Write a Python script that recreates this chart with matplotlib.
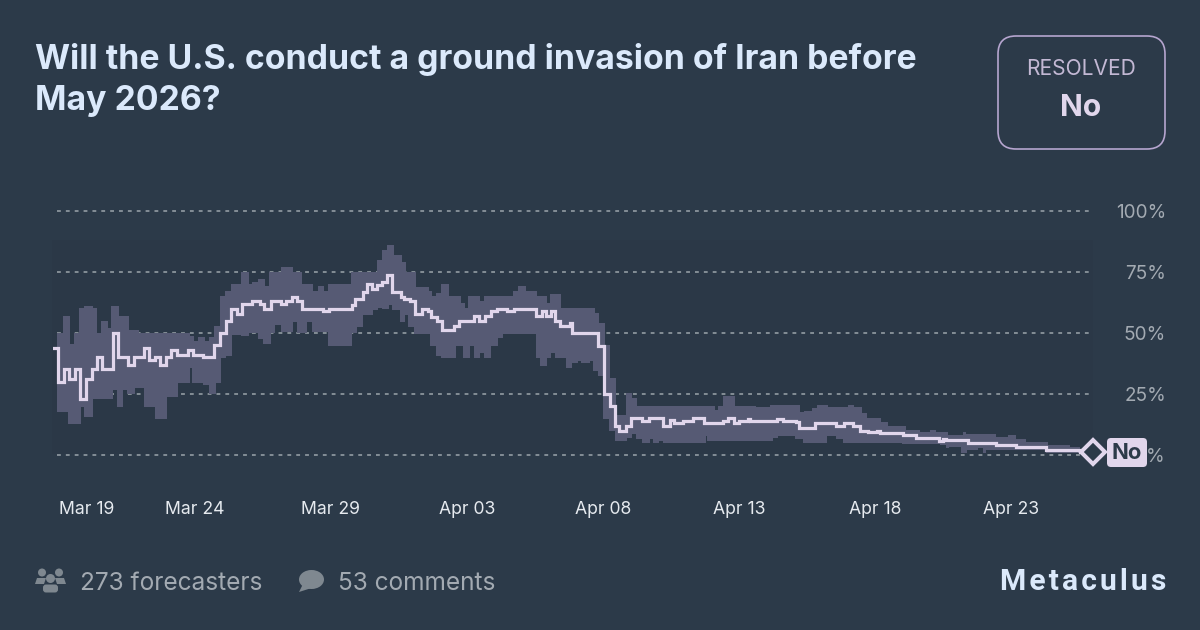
import matplotlib
matplotlib.use('Agg')
import matplotlib.pyplot as plt
from matplotlib.patches import FancyBboxPatch, Circle, Ellipse, Polygon, Rectangle

BG = '#2c3a49'
TITLE_COL = '#dbe9fb'
LAV = '#e1d6ec'
BAND = '#565a74'
GREY = '#a3aab2'
ICON = '#7f8890'

plt.rcParams['font.family'] = ['Inter', 'DejaVu Sans']

# hours since Mar 19, then percent
line_h = [-5.6, -0.6, 4.4, 8.8, 14.1, 18.5, 23.5, 28.8, 33.2, 38.2, 47.4, 52.4, 61.2, 66.2, 75.3, 79.7, 84.7, 89.1,
          94.4, 98.8, 103.8, 114.1, 117.9, 127.4, 136.8, 142, 147, 151.8, 156.8, 161.8, 170.6, 177.4, 180.9, 186.8,
          195.6, 200.3, 205.3, 210.3, 214.1, 232.6, 237.9, 258.2, 261.2, 268.5, 271.5, 275.9, 280.3, 284.7, 289.7,
          294.1, 301.7, 304.7, 309.7, 314.1, 320, 325.9, 328.2, 333.2, 337.6, 348.5, 353.2, 366.2, 370.6, 375.9,
          380.9, 386.2, 395, 401.4, 421.4, 426.4, 429.4, 433.8, 438.2, 442.6, 450.9, 452.9, 475.9, 480.9, 486.2,
          490.6, 494.5, 500.3, 504.5, 514.2, 520.9, 533.3, 539.7, 542.7, 550.3, 559.8, 569.2, 586.2, 590.6, 595.6,
          600.3, 608.3, 610.3, 633.3, 638.6, 650.9, 653.3, 667.1, 685.6, 693, 700.9, 706.8, 714.2, 722.1, 724.5,
          745, 756, 776.8, 780.3, 783.2, 802.3, 827.3, 845, 871.5, 900.9, 912.6]
line_p = [44, 30, 35, 31, 35, 22.7, 31, 35, 40, 35, 50, 40, 37, 40, 44, 39, 40, 37,
          40, 43, 41, 43, 41, 40, 45, 50, 55, 60, 58, 62, 63, 62, 60, 63,
          62, 63, 65, 63, 60, 59, 60, 61.5, 63.9, 67, 70, 68, 69.8, 71, 74,
          67, 65, 63.9, 63, 57.8, 60, 59, 56.7, 55, 51.2, 52.9, 55, 57, 55, 57,
          59, 59.9, 59, 59.9, 57, 59, 57, 59, 55, 52.9, 54, 49.9, 44.8, 24.9, 20,
          11.8, 9.8, 11.8, 14.9, 13.8, 14.9, 11.8, 14.2, 12.8, 13.8, 14.9, 12.8, 13.8, 14.9, 12.8,
          13.8, 14.6, 13.8, 14.6, 13.8, 13.3, 10.8, 13.1, 11.8, 12.8, 11.8, 9.8, 9.4, 9.8, 9,
          8, 6.9, 5.6, 6.5, 5.9, 4.8, 3.9, 2.9, 1.8, 0.9, 0.9]

upper_h = [-1.5, 3.2, 9.7, 13.2, 17.6, 22.4, 29.7, 33.2, 37.1, 42.9, 45.9, 52.9, 61.8, 70.9, 115.6, 119.1, 122.9, 128.8,
           132.4, 136.8, 142.1, 146.5, 151.5, 160.6, 167.9, 170.6, 175.3, 181.8, 185.6, 195.6, 206.8, 214.7, 224.4,
           228.8, 233.8, 237.6, 257.3, 280.3, 284.7, 289.1, 295.6, 302.3, 305.9, 315, 326.7, 329.4, 332.6, 337, 344.4,
           354.4, 358, 361.2, 372, 375.3, 400.9, 405.3, 412.6, 422, 430.9, 433.2, 443.5, 472.9, 476.7, 481.7, 486.2,
           491.5, 500.3, 505.3, 510.3, 578.9, 581.8, 585.6, 596.5, 615.6, 627.4, 653.9, 657.4, 664.2, 668.6, 678.9,
           696.5, 701.5, 708.3, 712.7, 725.9, 731.8, 747.9, 759.7, 768.5, 773.8, 784.7, 797.9, 800.3, 827.3, 837.6,
           845, 853.8, 872.9, 892, 900.9, 912.6]
upper_p = [50, 57.1, 45.3, 49.9, 60.2, 61.1, 60.2, 49.9, 55, 52.2, 61.1, 57.1, 51.2, 49.9, 48.8, 46.9, 48.2, 46.9,
           48.2, 53, 65.2, 67.3, 70.2, 75, 70.2, 71.1, 72.1, 69.4, 75, 77, 75, 70.2, 67.3,
           69.4, 67.3, 70.2, 75, 80, 84.2, 86.2, 82.1, 79.1, 75, 69.1, 67.3, 65.4, 66.3, 70.2, 65.2,
           62.2, 60.2, 65.2, 63.3, 65.2, 67.3, 69.4, 67.3, 65.2, 62.2, 66, 60.2, 58.1, 54, 45.1, 31.4,
           16.3, 25.2, 23.1, 20.1, 18.3, 20.1, 24.1, 20.1, 19.4, 20.4, 17.4, 18.1, 19.3, 20.4, 19.4,
           20.4, 19.4, 17, 14.9, 13.5, 11.8, 10, 9.4, 10, 9.1, 8, 9.1, 8.3, 7.3, 8,
           6.3, 5.2, 3.9, 2.9, 1.8, 0.9]

lower_h = [-1.5, 8.2, 19.1, 22.4, 29.7, 47.4, 51.5, 56.8, 60.3, 67.1, 75, 84.7, 95.6, 105.3, 115.6, 117.1, 127.4, 132.6,
           138.2, 142.9, 147.4, 152.9, 160.6, 167.9, 175.9, 180.3, 186.8, 190.6, 195.6, 206.8, 209.7, 218.5, 222.9,
           237.6, 258.2, 262.6, 268.5, 276.7, 281.7, 284.7, 291.2, 294.1, 300.9, 305.3, 308.2, 313.5, 327.3, 332.6,
           337, 350.3, 356.7, 362.6, 366.2, 372, 375.3, 381.7, 387.6, 392, 420.9, 424.4, 430.3, 433.8, 437.6, 447.3,
           453.2, 458.2, 461.1, 468.5, 471.4, 475.9, 480.3, 485.6, 490.6, 500.9, 505.9, 509.2, 514.2, 521.5, 523.9,
           529.8, 532.7, 570.9, 572.1, 630.3, 634.7, 649.5, 656.8, 677.4, 685.6, 692.1, 724.4, 744.4, 777.3, 782.6,
           785.6, 796.5, 801.4, 811.2, 815.6, 818.5, 871.5, 912.6]
lower_p = [17.6, 12.5, 19.7, 15.6, 22.7, 26.5, 19.7, 26.5, 24.9, 27.5, 19.7, 14.6, 23.5, 29.6, 35.5, 29.6, 28.6, 24.9,
           29.6, 39.6, 40.5, 49.2, 48.8, 49.9, 47.4, 45.5, 49.9, 53.3, 50.6, 54.4, 49.9, 54.4, 50.6,
           44.8, 49.9, 52.3, 57.4, 59.5, 60.4, 59.7, 61.5, 59.5, 54.4, 57.4, 52.3, 49.6, 44.8, 40.7,
           39.6, 44.8, 39.6, 44.8, 39.6, 41.6, 39.6, 44.8, 47.8, 49.6, 39.6, 36.6, 39.6, 41.6, 39.6, 35.7,
           37.5, 38.6, 37.5, 38.6, 34.5, 32.4, 14.6, 9.7, 5.7, 6.7, 8.5, 6.4, 4.6, 6.4, 4.6,
           5.6, 4.9, 7.6, 5.6, 6.7, 7.6, 6.4, 4.9, 7.6, 6.4, 4.6, 4.8, 4.5, 3.9, 2.5,
           2.9, 0.8, 1.8, 2.5, 0.8, 1.8, 0.8, 0.8]

tick_days = [0, 5, 10, 15, 20, 25, 30, 35]
tick_names = ['Mar 19', 'Mar 24', 'Mar 29', 'Apr 03', 'Apr 08', 'Apr 13', 'Apr 18', 'Apr 23']
y_ticks = [0, 25, 50, 75, 100]
y_names = ['0%', '25%', '50%', '75%', '100%']
end_hour = 912.6
end_pct = 0.9


def px_rect(x0, y0, x1, y1):
    return [x0 / 1200, 1 - y1 / 630, (x1 - x0) / 1200, (y1 - y0) / 630]


def pt(px):
    return px * 0.72


def steps(hours, values):
    # corner points of a stepped edge
    pts = []
    for a, b, v in zip(hours[:-1], hours[1:], values):
        pts.append((a, v))
        pts.append((b, v))
    return pts


fig = plt.figure(figsize=(12, 6.3), dpi=100, facecolor=BG)

# page layer, in pixels
page = fig.add_axes([0, 0, 1, 1])
page.set_xlim(0, 1200)
page.set_ylim(630, 0)
page.axis('off')

page.add_patch(Rectangle((52, 240), 1041, 214, fc='#2b3847', ec='none'))

page.text(35, 59, 'Will the U.S. conduct a ground invasion of Iran before', color=TITLE_COL, fontsize=pt(33.8),
          fontweight='bold', va='center')
page.text(35, 101, 'May 2026?', color=TITLE_COL, fontsize=pt(33.8), fontweight='bold', va='center')

page.add_patch(FancyBboxPatch((1016, 54), 131, 77, boxstyle='round,pad=18,rounding_size=18', fc='none', ec='#b6a5cf',
                              lw=1.2))
page.text(1081, 69, 'RESOLVED', color='#c3b8d4', fontsize=pt(21), ha='center', va='center')
page.text(1081, 108, 'No', color=LAV, fontsize=pt(30), fontweight='bold', ha='center', va='center')

# people icon
for cx, cy, r in [(42, 572.5, 4), (59, 572.5, 4), (50.5, 578.5, 4.5)]:
    page.add_patch(Circle((cx, cy), r, fc=ICON, ec='none'))
page.add_patch(Polygon([(35, 584), (37, 578), (46, 578), (44, 584)], fc=ICON, ec='none'))
page.add_patch(Polygon([(66, 584), (64, 578), (55, 578), (57, 584)], fc=ICON, ec='none'))
page.add_patch(FancyBboxPatch((43, 584.5), 15, 8, boxstyle='round,pad=0,rounding_size=3', fc=ICON, ec='none'))
# speech bubble icon
page.add_patch(Ellipse((311.5, 579.5), 25, 19, fc=ICON, ec='none'))
page.add_patch(Polygon([(303, 584), (299, 592), (310, 588.5)], fc=ICON, ec='none'))

page.text(80, 583, '273 forecasters', color=GREY, fontsize=pt(24.4), va='center')
page.text(338, 583, '53 comments', color=GREY, fontsize=pt(24.4), va='center')

# wordmark is letter-spaced, hair spaces keep it one string
page.text(1083, 582, '\u200a'.join('Metaculus'), color=TITLE_COL, fontsize=pt(30), family='Roboto', fontweight='bold',
          ha='center', va='center')

# chart layer
ax = fig.add_axes(px_rect(53, 211.5, 1093, 454.5))
ax.patch.set_alpha(0)
ax.set_xlim(-5.3, end_hour)
ax.set_ylim(0, 100)
for s in ax.spines.values():
    s.set_visible(False)

ax.hlines(y_ticks, -1.8, end_hour, color='#9ca5ab', lw=1.1, linestyles=(0, (2.5, 3.3)), clip_on=False, zorder=1)

ax.fill(*zip(*(steps(upper_h, upper_p) + steps(lower_h, lower_p)[::-1])), color=BAND, lw=0, zorder=2)
ax.step(line_h, line_p, where='post', color=LAV, lw=2.3, solid_joinstyle='miter', zorder=3)
ax.plot([end_hour], [end_pct], marker='D', ms=pt(17), mfc=BG, mec=LAV, mew=pt(4), clip_on=False, zorder=5)

ax.set_xticks([d * 24 for d in tick_days])
ax.set_xticklabels(tick_names, color='#e6eaef', fontsize=pt(17.6))
ax.tick_params(axis='x', length=0, pad=pt(46.5))
ax.get_xticklabels()[0].set_ha('left')

ax.yaxis.tick_right()
ax.set_yticks(y_ticks)
ax.set_yticklabels(y_names, color=GREY, fontsize=pt(19), ha='right')
ax.tick_params(axis='y', length=0, pad=pt(73))

# end badge sits over the 0% label
badge = fig.add_axes([0, 0, 1, 1], zorder=5)
badge.set_xlim(0, 1200)
badge.set_ylim(630, 0)
badge.axis('off')
badge.add_patch(FancyBboxPatch((1107, 438), 40, 29, boxstyle='round,pad=0,rounding_size=4', fc=LAV, ec='none'))
badge.text(1127, 453, 'No', color=BG, fontsize=pt(22), fontweight='bold', ha='center', va='center')

fig.savefig('out.png', dpi=100, facecolor=BG)
